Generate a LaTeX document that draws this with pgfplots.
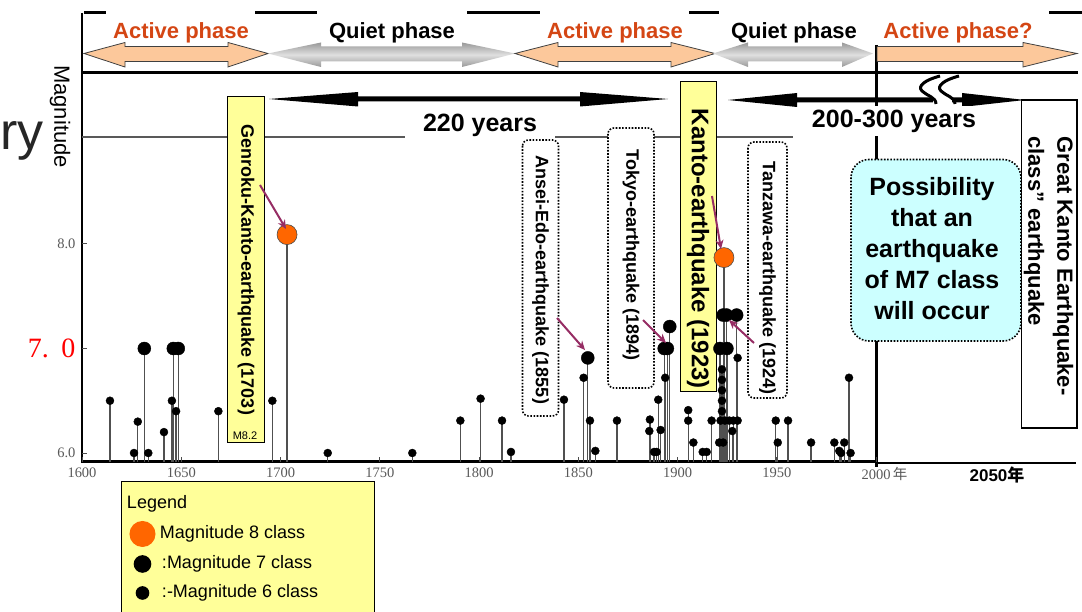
\documentclass[border=0pt]{standalone}
\usepackage{pgfplots}
\pgfplotsset{compat=1.18}
\usepackage{pgfplotstable}
\usepackage{fontspec}
\setmainfont{Liberation Sans}
\newfontfamily\seriffont{Liberation Serif}
\newfontfamily\cjk{Noto Sans CJK JP}
\usetikzlibrary{arrows.meta}
\definecolor{actorange}{RGB}{252,200,155}
\definecolor{actred}{RGB}{212,70,20}
\definecolor{labelyellow}{RGB}{255,255,153}
\definecolor{possib}{RGB}{204,255,255}
\definecolor{purp}{RGB}{150,45,100}
\definecolor{mag8}{RGB}{255,102,0}
\definecolor{stemgray}{RGB}{80,80,80}
\newcommand{\fs}[1]{\fontsize{#1}{#1}\selectfont}

% magnitude 6 class
\pgfplotstableread{
year mag
1614.1 6.50
1626.2 6.00
1628.1 6.30
1633.4 6.00
1641.3 6.20
1645.3 6.50
1647.4 6.40
1668.7 6.40
1695.9 6.50
1723.8 6.00
1766.4 6.00
1790.6 6.31
1800.8 6.52
1811.6 6.31
1816.1 6.01
1842.8 6.51
1852.7 6.72
1855.9 6.31
1858.6 6.02
1869.5 6.31
1886.1 6.32
1885.8 6.21
1888.2 6.01
1889.5 6.01
1890.3 6.51
1891.5 6.22
1893.8 6.72
1905.4 6.41
1905.4 6.31
1908.0 6.10
1912.7 6.01
1914.7 6.01
1917.2 6.31
1921.0 6.10
1921.7 6.31
1922.4 6.80
1922.4 6.70
1922.4 6.60
1922.4 6.50
1922.4 6.40
1923.0 6.10
1923.9 6.31
1926.1 6.31
1927.6 6.21
1928.1 6.31
1930.3 6.91
1930.3 6.31
1949.5 6.31
1950.5 6.10
1955.7 6.31
1967.3 6.10
1979.0 6.10
1981.5 6.02
1982.4 6.00
1984.0 6.10
1986.4 6.72
1987.2 6.00
}\magsix
% magnitude 7 class
\pgfplotstableread{
year mag
1631.4 7.00
1646.0 7.00
1648.5 7.00
1854.8 6.91
1893.3 7.00
1894.9 7.00
1896.1 7.21
1921.4 7.00
1924.9 7.00
1923.0 7.32
1924.7 7.32
1929.8 7.32
}\magseven
% magnitude 8 class
\pgfplotstableread{
year mag
1703.3 8.09
1923.4 7.87
}\mageight

\begin{document}
\begin{tikzpicture}[x=1pt,y=1pt]
\useasboundingbox (0,0) rectangle (1082,611);
\begin{scope}[shift={(0,611)},yscale=-1]
% frame lines
\draw[line width=3pt] (84,13)--(106,13) (255,13)--(317,13) (467,13)--(540,13) (689,13)--(719,13) (1049,13)--(1082,13);
\draw[line width=2.5pt] (82,13)--(82,463);
\draw[line width=3pt] (82,73)--(1078,73);
\draw[line width=2.2pt, black!65] (82,137)--(793,137);
\draw[line width=3pt] (876,45)--(876,467);
\draw[line width=3pt] (81,462)--(876,462);
\draw[line width=2pt] (876,463)--(1076,463);
% phase arrows
\newcommand{\dblarr}[5]{\path[#5] (#1,53.5)--(#2,42.5)--(#2,46.5)--(#3,46.5)--(#3,42.5)--(#4,53.5)--(#3,67)--(#3,61.5)--(#2,61.5)--(#2,67)--cycle;}
\dblarr{84}{125}{228}{268}{fill=actorange,draw=black!75,line width=0.8pt}
\dblarr{268}{321}{462}{515}{top color=gray!80,bottom color=gray!80,middle color=gray!25}
\dblarr{515}{558}{671}{715}{fill=actorange,draw=black!75,line width=0.8pt}
\dblarr{713}{748}{842}{873}{top color=gray!80,bottom color=gray!80,middle color=gray!25}
\path[fill=actorange,draw=black!75,line width=0.8pt] (877,46.5)--(1023,46.5)--(1023,42.5)--(1077,53.5)--(1023,67)--(1023,61.5)--(877,61.5)--cycle;
\node[font=\bfseries\fs{22},text=actred] at (181,33) {Active phase};
\node[font=\bfseries\fs{22}] at (392,33) {Quiet phase};
\node[font=\bfseries\fs{22},text=actred] at (615,33) {Active phase};
\node[font=\bfseries\fs{22}] at (794,33) {Quiet phase};
\node[font=\bfseries\fs{22},text=actred] at (958,33) {Active phase?};
% 220 years arrow
\fill (269,99)--(358,92)--(358,96.5)--(580,96.5)--(580,92)--(668,99)--(580,106.5)--(580,101.5)--(358,101.5)--(358,106.5)--cycle;
\node[fill=white,inner xsep=18pt,inner ysep=4pt,font=\bfseries\fs{25}] at (480,125) {220 years};
% 200-300 years arrow
\fill (728,100)--(797,93)--(797,97.5)--(962,97.5)--(962,93)--(1025,100)--(962,107)--(962,102.5)--(797,102.5)--(797,107)--cycle;
\fill[white] (933,95)--(952,95)--(952,105)--(933,105)--cycle;
\draw[line width=3pt] (940,76) .. controls (925,80) and (917,86) .. (922,91) .. controls (927,96) and (936,97) .. (936,104);
\draw[line width=3pt] (959,76) .. controls (944,80) and (936,86) .. (941,91) .. controls (946,96) and (955,97) .. (955,104);
\node[fill=white,inner xsep=12pt,inner ysep=4pt,font=\bfseries\fs{25}] at (894,121) {200-300 years};
% label boxes
\draw[fill=labelyellow,line width=1pt] (227.5,97) rectangle (264,443);
\node[rotate=-90,font=\bfseries\fs{18}] at (246,270) {Genroku-Kanto-earthquake (1703)};
\node[font=\fs{11}] at (245,436) {M8.2};
\draw[fill=white,line width=1.6pt,dash pattern=on 1.6pt off 1.6pt,rounded corners=6pt] (522.5,140) rectangle (558.5,416);
\node[rotate=-90,font=\bfseries\fs{18}] at (540.5,280) {Ansei-Edo-earthquake (1855)};
\draw[fill=white,line width=1.6pt,dash pattern=on 1.6pt off 1.6pt,rounded corners=6pt] (608,128) rectangle (654,388);
\node[rotate=-90,font=\bfseries\fs{18}] at (631,255) {Tokyo-earthquake (1894)};
\draw[fill=labelyellow,line width=1pt] (680.5,82) rectangle (716,392);
\node[rotate=-90,font=\bfseries\fs{24}] at (698,249) {Kanto-earthquake (1923)};
\draw[fill=white,line width=1.6pt,dash pattern=on 1.6pt off 1.6pt,rounded corners=6pt] (748,142) rectangle (787,398);
\node[rotate=-90,font=\bfseries\fs{18}] at (767.5,278) {Tanzawa-earthquake (1924)};
\draw[fill=possib,line width=1.6pt,dash pattern=on 1.6pt off 1.6pt,rounded corners=18pt] (851,159.5) rectangle (1021,341);
\node[align=center,font=\bfseries\fontsize{25}{31}\selectfont] at (932,249) {Possibility\\that an\\earthquake\\of M7 class\\will occur};
\draw[fill=white,line width=1.2pt] (1021.5,100) rectangle (1077,428);
\node[rotate=-90,align=left,font=\bfseries\fontsize{22}{29}\selectfont] at (1048.5,266) {Great Kanto Earthquake-\\class” earthquake};
% other text
\node[anchor=base east,font=\fs{52},text=black!85,inner sep=0pt] at (44,150) {ry};
\node[rotate=-90,font=\fs{22}] at (60,116.5) {Magnitude};
\node[font=\bfseries\fs{17}] at (997,475) {2050{\cjk 年}};
\end{scope}

\begin{axis}[
  at={(82pt,149pt)}, anchor=south west,
  scale only axis, width=992.5pt, height=389pt,
  xmin=1600, xmax=2100, ymin=5.9139, ymax=9.636,
  axis line style={draw=none},
  tick pos=left, tick align=inside,
  major tick length=5pt,
  tick style={black!70, line width=1pt},
  xtick={1600,1650,...,2000},
  xticklabels={1600,1650,1700,1750,1800,1850,1900,1950,{2000\rlap{\,{\cjk 年}}}},
  ytick={6,7,8},
  yticklabels={6.0,{\fs{28}\color{red}7.\hspace{0.45em}0},8.0},
  ticklabel style={font=\seriffont\fs{14.5}, text=black!65},
  xticklabel style={yshift=-2pt},
  yticklabel style={xshift=-3pt},
  legend style={at={(0.0398,-0.0488)}, anchor=north west, fill=labelyellow, draw=black, line width=1pt,
    font=\fs{18}, row sep=6pt, inner xsep=8pt, inner ysep=11pt,
    nodes={text height=14pt, text depth=5pt}},
  legend cell align=left,
]
\addplot[ycomb, draw=stemgray, line width=1.3pt, forget plot] table[x=year,y=mag] {\magsix};
\addplot[ycomb, draw=stemgray, line width=1.3pt, forget plot] table[x=year,y=mag] {\magseven};
\addplot[ycomb, draw=stemgray, line width=1.3pt, forget plot] table[x=year,y=mag] {\mageight};
\addplot[only marks, mark=*, mark size=4pt, black, forget plot] table[x=year,y=mag] {\magsix};
\addplot[only marks, mark=*, mark size=6.5pt, black, forget plot] table[x=year,y=mag] {\magseven};
\addplot[only marks, mark=*, mark size=10pt, mark options={fill=mag8, draw=black!70, line width=0.6pt}, forget plot] table[x=year,y=mag] {\mageight};
\addlegendimage{empty legend}\addlegendentry{\hspace*{-30pt}Legend}
\addlegendimage{only marks, mark=*, mark size=12.5pt, color=mag8}\addlegendentry{\hbox to 208pt{\hspace*{3pt}Magnitude 8 class\hfil}}
\addlegendimage{only marks, mark=*, mark size=8.3pt, black}\addlegendentry{\hspace*{5pt}:Magnitude 7 class}
\addlegendimage{only marks, mark=*, mark size=6.3pt, black}\addlegendentry{\hspace*{5pt}:-Magnitude 6 class}
\addlegendimage{empty legend}\addlegendentry{}
\end{axis}

\begin{scope}[shift={(0,611)},yscale=-1]
\draw[purp,line width=2pt,-{Stealth[length=9pt,width=8pt]}] (260,185)--(286,229);
\draw[purp,line width=2pt,-{Stealth[length=9pt,width=8pt]}] (557,318)--(585,350);
\draw[purp,line width=2pt,-{Stealth[length=9pt,width=8pt]}] (643,320)--(666,343);
\draw[purp,line width=2pt,-{Stealth[length=9pt,width=8pt]}] (712,196)--(721,249);
\draw[purp,line width=2pt,-{Stealth[length=9pt,width=8pt]}] (754,343)--(729,320);
\end{scope}
\end{tikzpicture}
\end{document}
